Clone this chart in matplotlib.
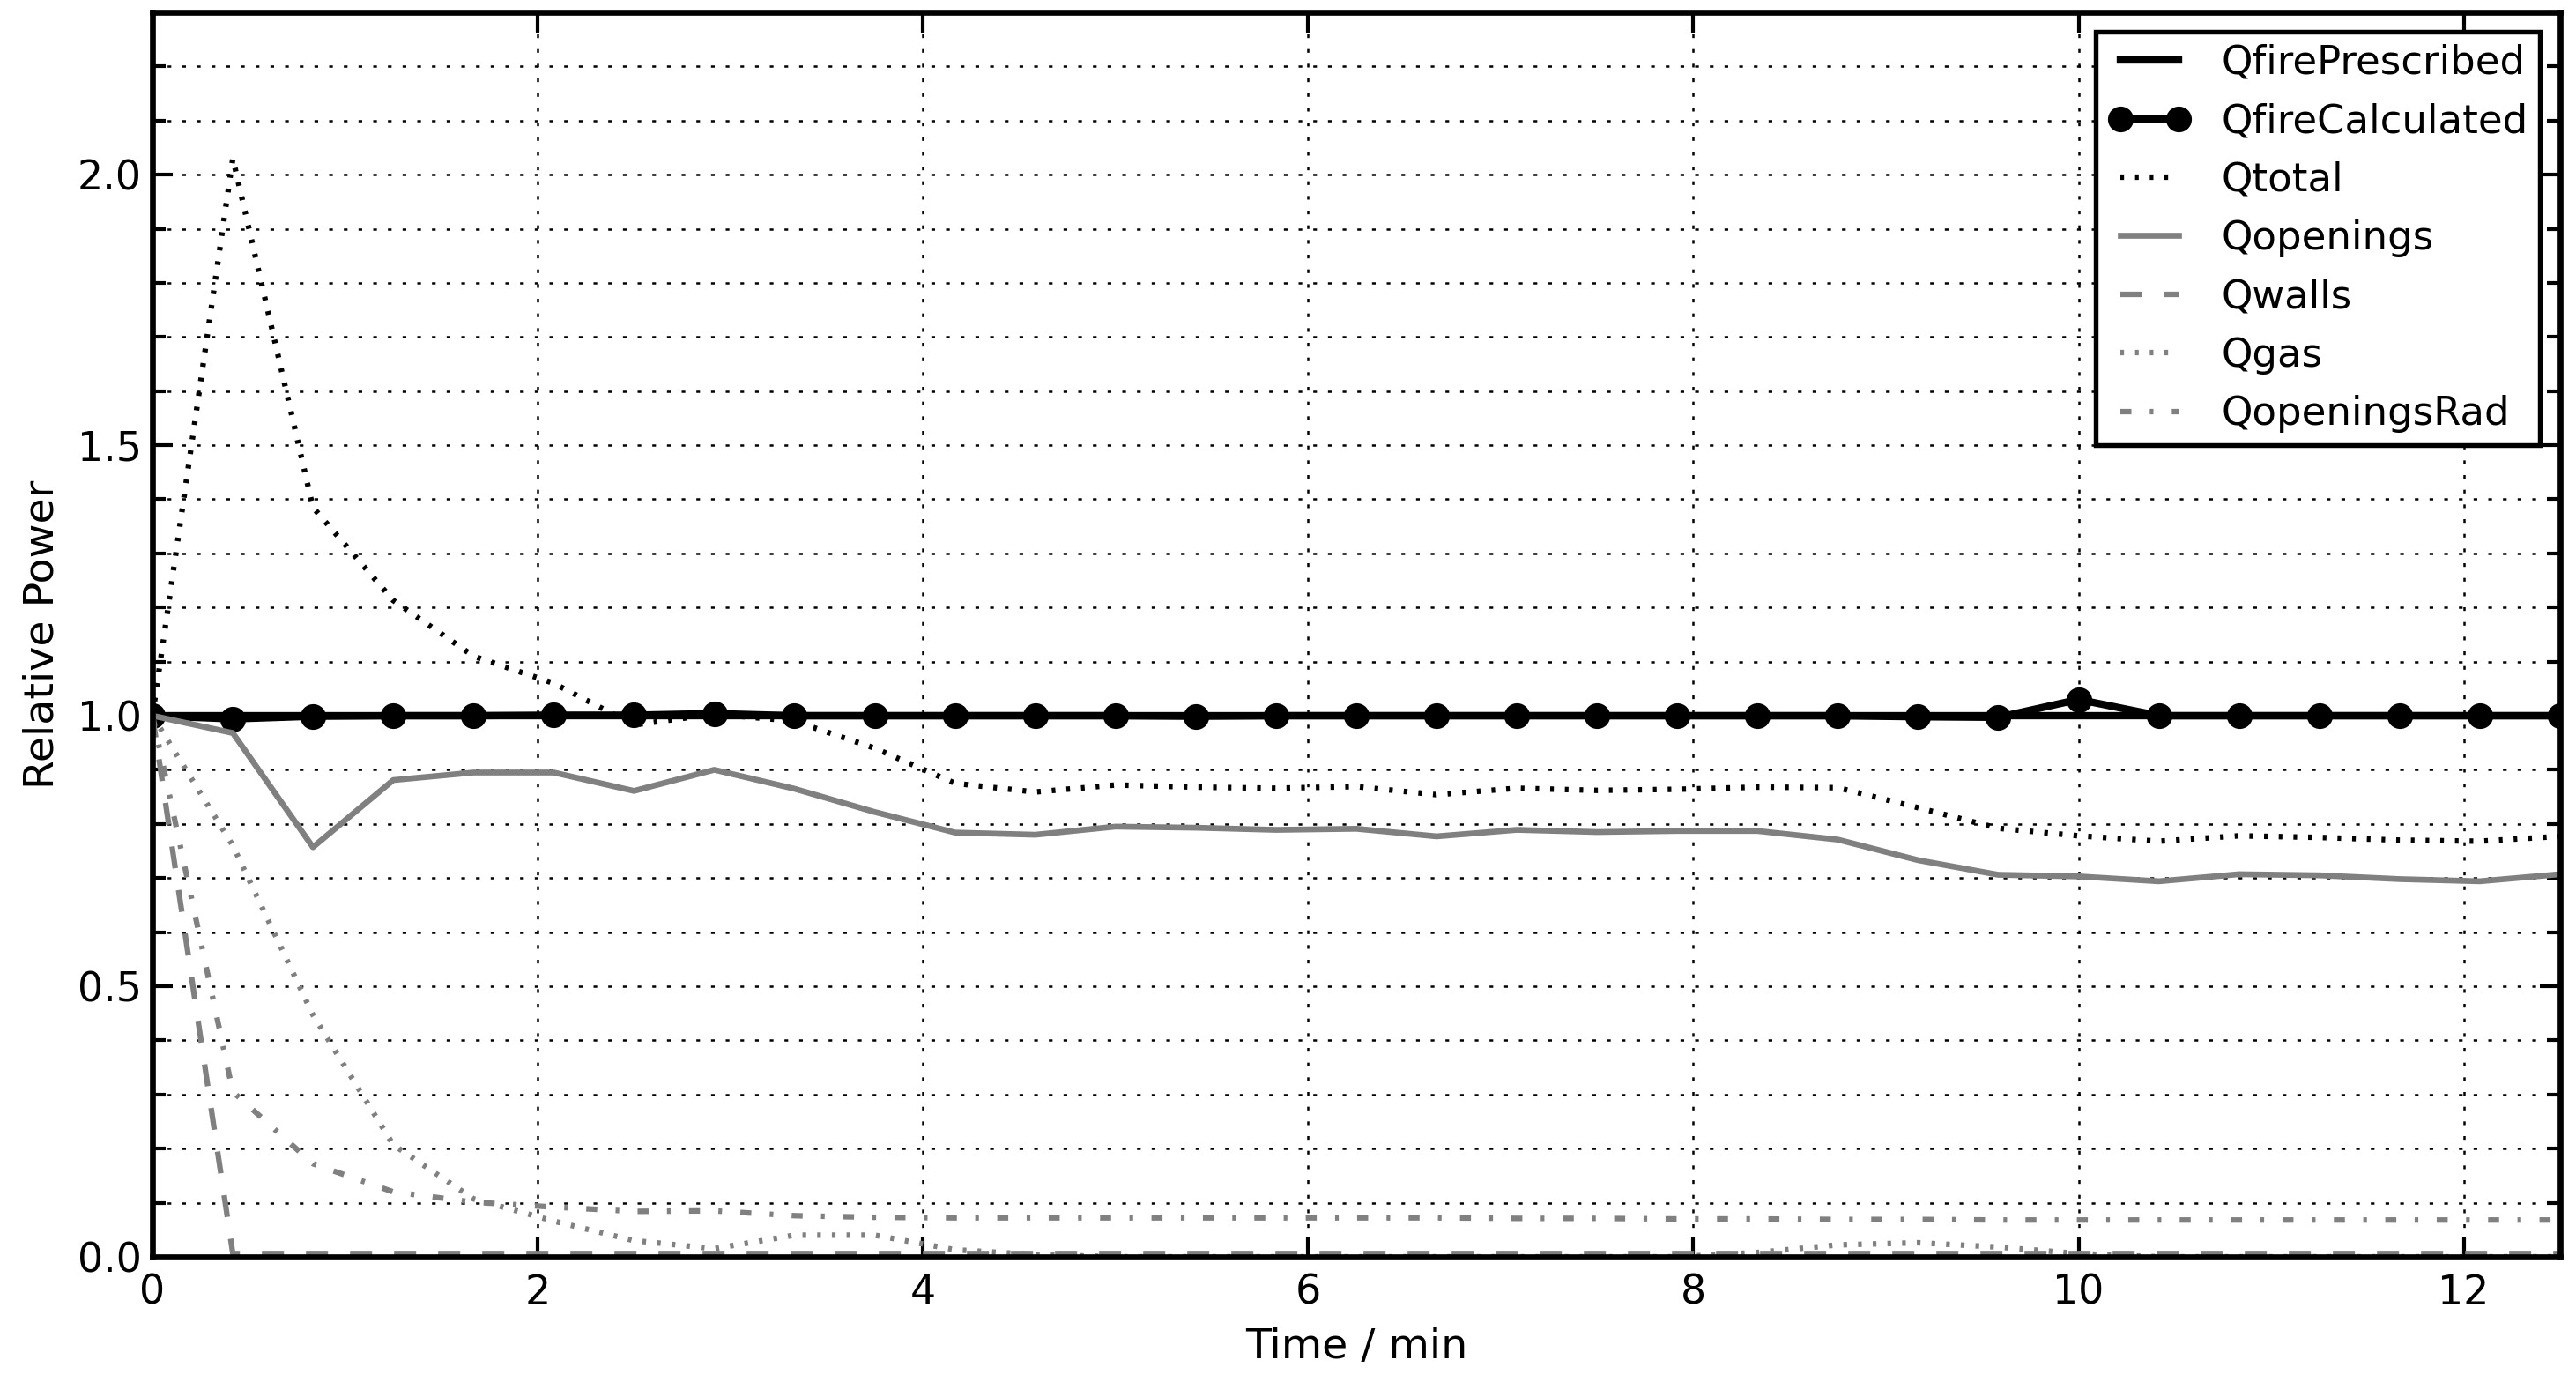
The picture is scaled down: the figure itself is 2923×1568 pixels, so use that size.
import matplotlib
matplotlib.use('Agg')
import matplotlib.pyplot as plt
from matplotlib.ticker import MultipleLocator
from matplotlib.legend_handler import HandlerLine2D

plt.rcParams['font.family'] = ['DejaVu Sans']
plt.rcParams['lines.scale_dashes'] = False

# time / min (25 s steps)
t = [0.0, 0.417, 0.833, 1.25, 1.667, 2.083, 2.5, 2.917, 3.333, 3.75,
     4.167, 4.583, 5.0, 5.417, 5.833, 6.25, 6.667, 7.083, 7.5, 7.917,
     8.333, 8.75, 9.167, 9.583, 10.0, 10.417, 10.833, 11.25, 11.667, 12.083, 12.5]

q_prescribed = [1.0, 1.0, 1.0, 1.0, 1.0, 1.0, 1.0, 1.0, 1.0, 1.0,
                1.0, 1.0, 1.0, 1.0, 1.0, 1.0, 1.0, 1.0, 1.0, 1.0,
                1.0, 1.0, 1.0, 1.0, 1.0, 1.0, 1.0, 1.0, 1.0, 1.0, 1.0]

q_calculated = [1.0, 0.994, 0.999, 1.0, 1.0, 1.001, 1.001, 1.004, 1.0, 1.0,
                1.0, 1.0, 1.0, 0.999, 1.0, 1.0, 1.0, 1.0, 1.0, 1.0,
                1.0, 1.0, 0.998, 0.997, 1.03, 1.0, 1.0, 1.0, 1.0, 1.0, 1.0]

q_total = [1.0, 2.03, 1.385, 1.213, 1.11, 1.06, 0.983, 1.003, 0.99, 0.94,
           0.875, 0.859, 0.872, 0.868, 0.866, 0.869, 0.854, 0.866, 0.862, 0.864,
           0.868, 0.867, 0.83, 0.792, 0.778, 0.768, 0.778, 0.775, 0.77, 0.768, 0.777]

q_openings = [1.0, 0.968, 0.757, 0.881, 0.895, 0.895, 0.861, 0.9, 0.865, 0.822,
              0.784, 0.78, 0.795, 0.793, 0.789, 0.791, 0.777, 0.789, 0.785, 0.787,
              0.787, 0.771, 0.733, 0.706, 0.703, 0.694, 0.707, 0.705, 0.698, 0.694, 0.707]

q_walls = [1.0, 0.006, 0.006, 0.006, 0.006, 0.006, 0.006, 0.006, 0.006, 0.006,
           0.006, 0.006, 0.006, 0.006, 0.006, 0.006, 0.006, 0.006, 0.006, 0.006,
           0.006, 0.006, 0.006, 0.006, 0.006, 0.006, 0.006, 0.006, 0.006, 0.006, 0.006]

q_gas = [1.0, 0.76, 0.447, 0.207, 0.107, 0.066, 0.03, 0.015, 0.04, 0.04,
         0.013, 0.004, 0.0, 0.0, 0.0, 0.0, 0.0, 0.0, 0.0, 0.0,
         0.008, 0.022, 0.026, 0.018, 0.006, 0.0, 0.0, 0.0, 0.0, 0.0, 0.0]

q_openings_rad = [1.0, 0.305, 0.172, 0.12, 0.101, 0.092, 0.084, 0.085, 0.076, 0.073,
                  0.072, 0.072, 0.072, 0.072, 0.072, 0.072, 0.072, 0.071, 0.071, 0.07,
                  0.07, 0.069, 0.069, 0.068, 0.068, 0.068, 0.068, 0.068, 0.068, 0.068, 0.068]

fig = plt.figure(figsize=(2923 / 300, 1568 / 300), dpi=300)
ax = fig.add_axes([0.0592, 0.0906, 0.9346, 0.9005])

ax.plot(t, q_prescribed, color='k', lw=2, label='QfirePrescribed')
ax.plot(t, q_calculated, color='k', lw=2, marker='o', ms=6, label='QfireCalculated')
ax.plot(t, q_total, color='k', lw=1.5, dashes=(1, 3), label='Qtotal')
ax.plot(t, q_openings, color='gray', lw=1.6, label='Qopenings')
ax.plot(t, q_walls, color='gray', lw=1.5, dashes=(6, 6), label='Qwalls')
ax.plot(t, q_gas, color='gray', lw=1.5, dashes=(1, 3), label='Qgas')
ax.plot(t, q_openings_rad, color='gray', lw=1.5, dashes=(3, 5, 1, 5), label='QopeningsRad')

ax.set_xlim(0, 12.5)
ax.set_ylim(0, 2.3)
ax.xaxis.set_major_locator(MultipleLocator(2))
ax.yaxis.set_major_locator(MultipleLocator(0.5))
ax.yaxis.set_minor_locator(MultipleLocator(0.1))

# classic look: inward ticks on all four sides, dotted grid
ax.tick_params(which='both', direction='in', top=True, right=True, labelsize=11)
ax.tick_params(which='major', length=5.5, width=1)
ax.tick_params(which='minor', length=3.5, width=1)
ax.tick_params(axis='x', pad=4.5)
ax.tick_params(axis='y', pad=3)
ax.grid(which='major', color='k', lw=0.6, dashes=(1, 3))
ax.grid(which='minor', axis='y', color='k', lw=0.6, dashes=(1, 3))
for s in ax.spines.values():
    s.set_linewidth(1.6)

ax.set_xlabel('Time / min', fontsize=11.4, labelpad=4)
ax.set_ylabel('Relative Power', fontsize=11.4, labelpad=4)

# markers sit at the ends of the legend handle
leg = ax.legend(loc='upper right', fontsize=10.8, numpoints=2, handlelength=1.8,
                handletextpad=1.08, labelspacing=0.52, borderpad=0.3,
                borderaxespad=0.5, fancybox=False, framealpha=1, edgecolor='k',
                handler_map={matplotlib.lines.Line2D: HandlerLine2D(marker_pad=0, xpad=0.33)})
leg.get_frame().set_linewidth(1.3)

fig.savefig('out.png', dpi=300)
